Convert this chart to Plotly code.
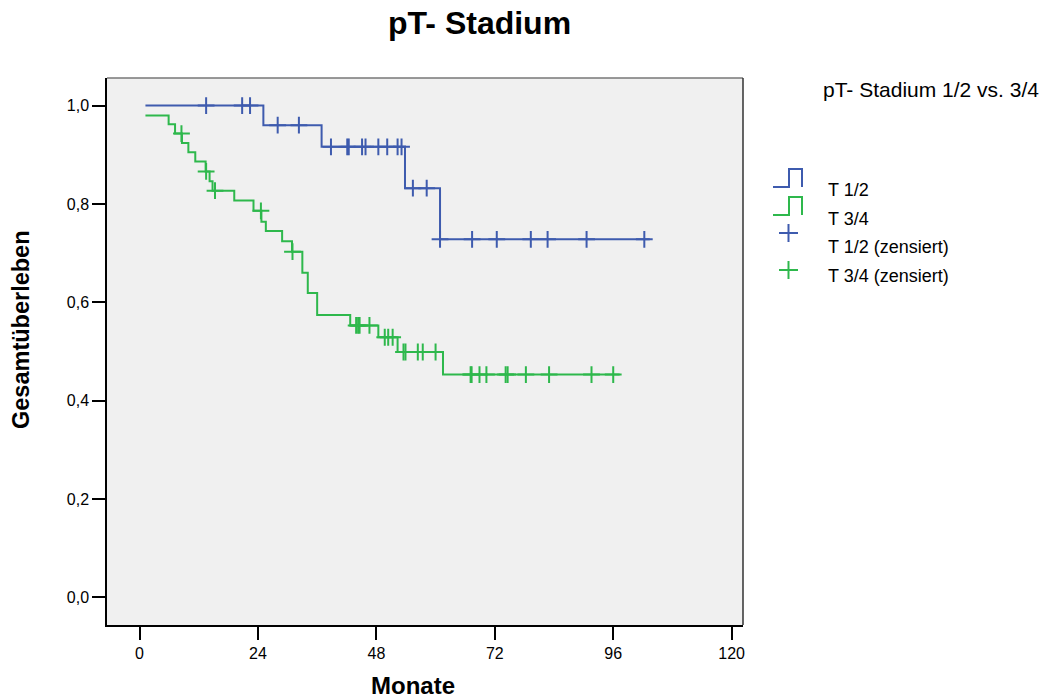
import plotly.graph_objects as go

# Kaplan-Meier step curves: time of each step (months) and survival after it
t12_steps = [1.2, 25.1, 36.9, 53.8, 60.9, 103.4]
s12_steps = [1.000, 0.960, 0.916, 0.832, 0.728, 0.728]

t34_steps = [1.2, 5.9, 7.2, 8.6, 9.9, 11.3, 13.4, 14.2, 14.8, 19.2, 23.1, 24.7,
             25.6, 28.9, 30.9, 33.0, 34.1, 36.0, 42.7, 48.4, 52.3, 61.5, 97.3]
s34_steps = [0.980, 0.962, 0.943, 0.924, 0.905, 0.886, 0.866, 0.846, 0.827, 0.807,
             0.786, 0.764, 0.745, 0.724, 0.703, 0.660, 0.619, 0.574, 0.553, 0.529,
             0.499, 0.453, 0.453]

# Censored observations (months) and the survival level they sit on
c12_t = [13.5, 20.8, 22.4, 28.0, 32.3, 38.8, 42.1, 42.4, 45.1, 45.8, 48.4, 50.2,
         52.3, 53.1, 55.4, 58.2, 60.9, 67.4, 72.4, 79.3, 82.7, 90.6, 102.3]
c12_s = [1.000, 1.000, 1.000, 0.960, 0.960, 0.916, 0.916, 0.916, 0.916, 0.916,
         0.916, 0.916, 0.916, 0.916, 0.832, 0.832, 0.728, 0.728, 0.728, 0.728,
         0.728, 0.728, 0.728]

c34_t = [8.5, 13.5, 15.3, 24.6, 31.0, 43.9, 44.3, 44.6, 46.6, 49.7, 50.4, 51.3,
         53.5, 53.9, 56.4, 57.4, 60.0, 67.1, 67.3, 68.9, 70.3, 74.2, 74.6, 78.3,
         83.0, 91.6, 96.0]
c34_s = [0.943, 0.866, 0.827, 0.786, 0.703, 0.553, 0.553, 0.553, 0.553, 0.529,
         0.529, 0.529, 0.499, 0.499, 0.499, 0.499, 0.499, 0.453, 0.453, 0.453,
         0.453, 0.453, 0.453, 0.453, 0.453, 0.453, 0.453]

x_ticks = [0, 24, 48, 72, 96, 120]
y_ticks = [0.0, 0.2, 0.4, 0.6, 0.8, 1.0]
y_tick_text = ["0,0", "0,2", "0,4", "0,6", "0,8", "1,0"]

group_labels = ["T 1/2", "T 3/4", "T 1/2 (zensiert)", "T 3/4 (zensiert)"]

BLUE = "#3e5bae"
GREEN = "#2eb84c"
FONT = "Liberation Sans, Arial, sans-serif"

W, H = 1048, 699
L, R, T, B = 107, 305, 78, 74
PW, PH = W - L - R, H - T - B


def px(xp):
    return (xp - L) / PW


def py(yp):
    return (H - B - yp) / PH


fig = go.Figure()

for ts, ss, col in [(t12_steps, s12_steps, BLUE), (t34_steps, s34_steps, GREEN)]:
    fig.add_trace(go.Scatter(x=ts, y=ss, mode="lines", line=dict(color=col, width=2, shape="hv"),
                             showlegend=False, hoverinfo="skip"))

for ct, cs, col in [(c12_t, c12_s, BLUE), (c34_t, c34_s, GREEN)]:
    fig.add_trace(go.Scatter(x=ct, y=cs, mode="markers",
                             marker=dict(symbol="cross-thin", size=12, line=dict(color=col, width=2)),
                             showlegend=False, hoverinfo="skip"))

shapes = []
annotations = []

# Legend: step icons, cross icons and labels
step_rows = [(BLUE, 169, 187), (GREEN, 197, 215)]
for col, ytop, ybot in step_rows:
    path = "M {a},{b} L {c},{b} L {c},{d} L {e},{d} L {e},{b}".format(
        a=px(773), b=py(ybot), c=px(789), d=py(ytop), e=px(802))
    shapes.append(dict(type="path", path=path, xref="paper", yref="paper",
                       line=dict(color=col, width=2)))

for col, yc in [(BLUE, 233), (GREEN, 270)]:
    shapes.append(dict(type="line", xref="paper", yref="paper", x0=px(779), x1=px(798),
                       y0=py(yc), y1=py(yc), line=dict(color=col, width=2)))
    shapes.append(dict(type="line", xref="paper", yref="paper", x0=px(788.5), x1=px(788.5),
                       y0=py(yc - 9), y1=py(yc + 9), line=dict(color=col, width=2)))

for lab, yc in zip(group_labels, [190, 219, 247, 276]):
    annotations.append(dict(text=lab, x=px(826), y=py(yc), xref="paper", yref="paper",
                            xanchor="left", yanchor="middle", showarrow=False,
                            font=dict(family=FONT, size=18, color="#000000")))

annotations.append(dict(text="pT- Stadium 1/2 vs. 3/4", x=px(821), y=py(89), xref="paper",
                        yref="paper", xanchor="left", yanchor="middle", showarrow=False,
                        font=dict(family=FONT, size=21, color="#000000")))

# Titles
annotations.append(dict(text="<b>pT- Stadium</b>", x=px(479), y=py(23), xref="paper", yref="paper",
                        xanchor="center", yanchor="middle", showarrow=False,
                        font=dict(family=FONT, size=32, color="#000000")))
annotations.append(dict(text="<b>Monate</b>", x=px(413), y=py(685), xref="paper", yref="paper",
                        xanchor="center", yanchor="middle", showarrow=False,
                        font=dict(family=FONT, size=24, color="#000000")))
annotations.append(dict(text="<b>Gesamtüberleben</b>", x=px(21), y=py(330), xref="paper",
                        yref="paper", xanchor="center", yanchor="middle", showarrow=False,
                        textangle=-90, font=dict(family=FONT, size=23.5, color="#000000")))

# Frame: grey top/right border
shapes.append(dict(type="line", xref="paper", yref="paper", x0=0, x1=1, y0=1, y1=1,
                   line=dict(color="#777777", width=1.5)))
shapes.append(dict(type="line", xref="paper", yref="paper", x0=1, x1=1, y0=0, y1=1,
                   line=dict(color="#333333", width=1.5)))

fig.update_layout(
    width=W, height=H,
    margin=dict(l=L, r=R, t=T, b=B, pad=0),
    paper_bgcolor="#ffffff",
    plot_bgcolor="#f0f0f0",
    showlegend=False,
    shapes=shapes,
    annotations=annotations,
    font=dict(family=FONT, size=16, color="#000000"),
)

fig.update_xaxes(range=[-6.59, 122.3], tickvals=x_ticks, ticktext=[str(v) for v in x_ticks],
                 ticks="outside", ticklen=13, tickwidth=2, tickcolor="#000000",
                 showline=True, linecolor="#000000", linewidth=2, showgrid=False, zeroline=False,
                 tickfont=dict(family=FONT, size=16, color="#000000"))
fig.update_yaxes(range=[-0.056, 1.056], tickvals=y_ticks, ticktext=y_tick_text,
                 ticks="outside", ticklen=13, tickwidth=2, tickcolor="#000000",
                 showline=True, linecolor="#000000", linewidth=1.5, showgrid=False, zeroline=False,
                 tickfont=dict(family=FONT, size=16, color="#000000"))

fig.write_html("out.html", config={"displayModeBar": False})
